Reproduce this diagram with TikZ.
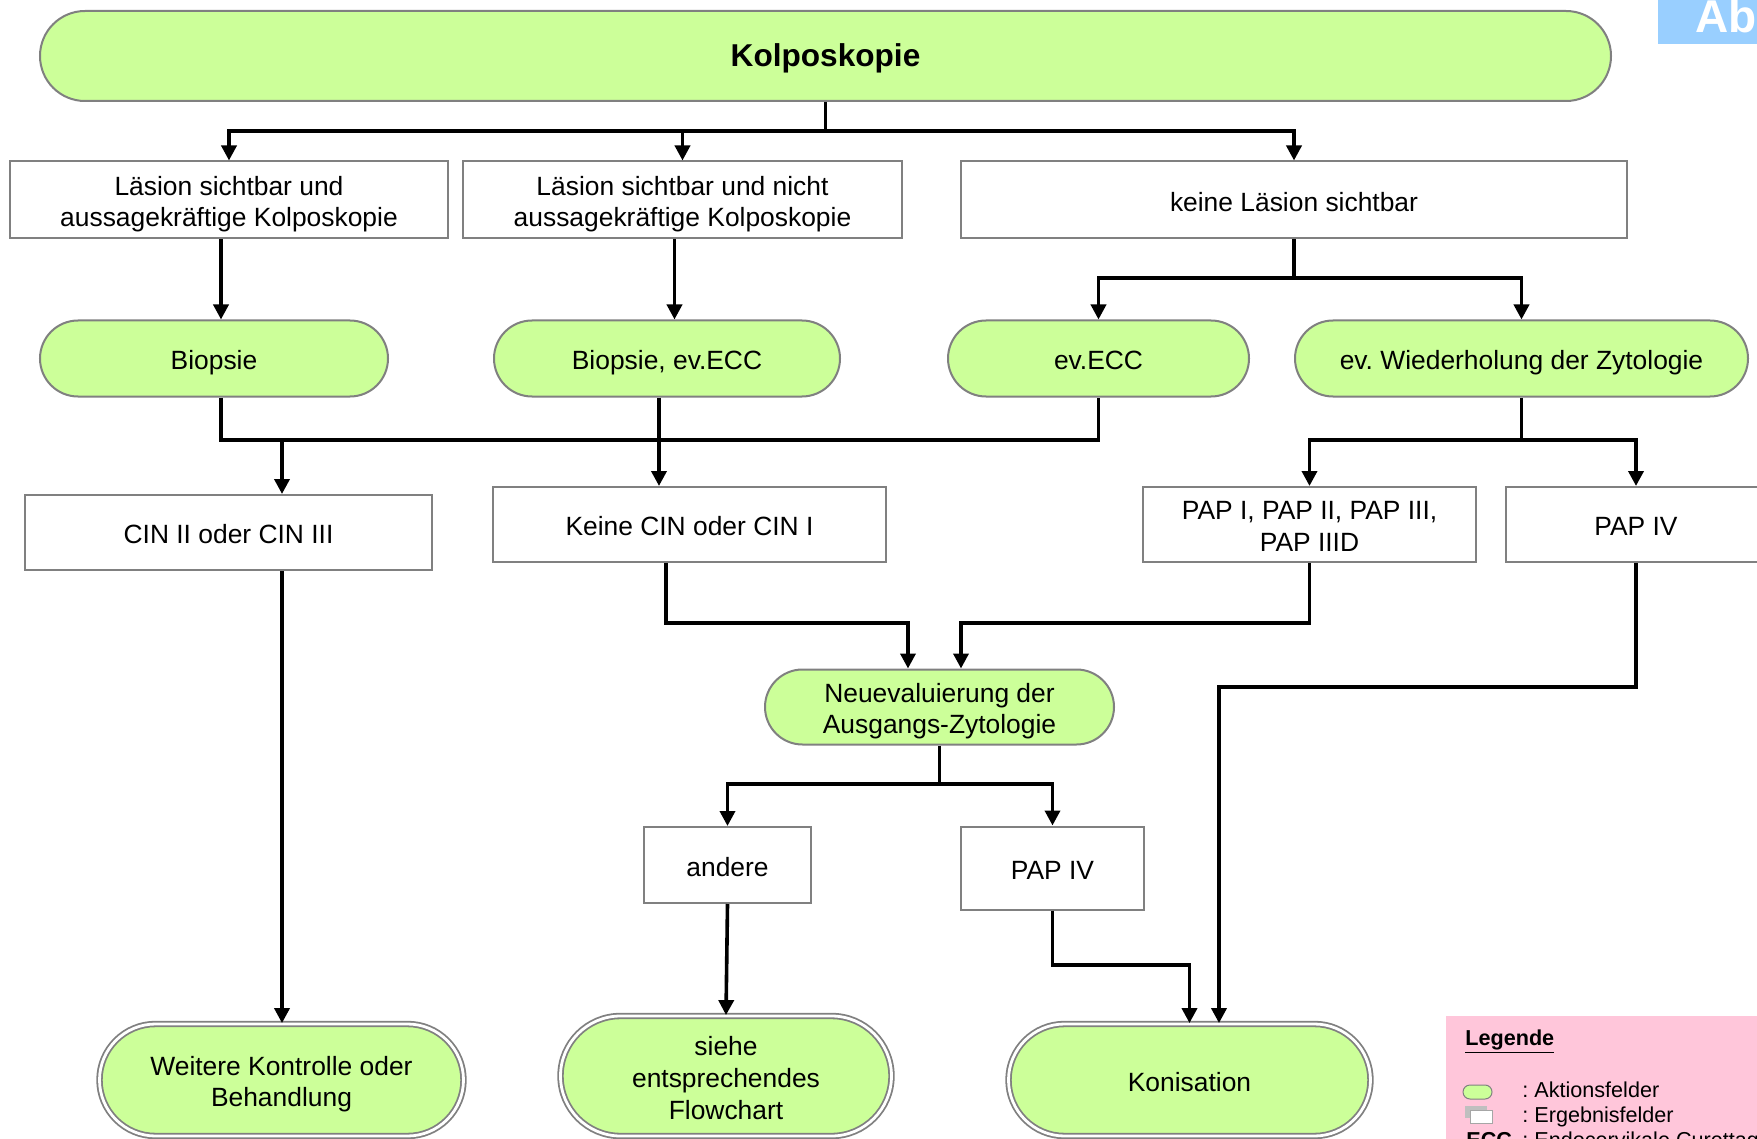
\documentclass[tikz,border=0pt]{standalone}
\usepackage{fontspec}
\setmainfont{Liberation Sans}
\usetikzlibrary{shapes.misc,arrows.meta,calc}
\definecolor{actgreen}{RGB}{204,255,153}
\definecolor{edgegray}{RGB}{128,128,128}
\definecolor{legpink}{RGB}{255,198,218}
\definecolor{tagblue}{RGB}{153,207,255}
% struts: \lt opens the first line of a box, \ls every further line
\newcommand\lt{\rule[-0.212em]{0pt}{1.26em}}
\newcommand\ls{\rule[-0.212em]{0pt}{1.117em}}

\begin{document}
\frenchspacing
\begin{tikzpicture}[x=0.5pt,y=-0.5pt,
  txt/.style={font=\fontsize{13.2}{15.7}\selectfont, align=center, text=black, inner sep=0pt},
  action/.style={txt, rounded rectangle, draw=edgegray, line width=1pt, fill=actgreen},
  result/.style={txt, rectangle, draw=edgegray, line width=1pt, fill=white},
  final/.style={action, double=white, double distance=1.4pt, line width=0.9pt},
  ln/.style={line width=1.8pt, draw=black},
  arr/.style={ln, -{Triangle[length=7.5pt,width=7.5pt]}},
  legtext/.style={font=\fontsize{10.8}{13}\selectfont, inner sep=0pt, anchor=base west},
]
\useasboundingbox (0,0) rectangle (1757,1139);
\clip (0,0) rectangle (1757,1139);
\fill[white] (0,0) rectangle (1757,1139);

% corner tag
\fill[tagblue] (1658,0) rectangle (1757,44);
\node[inner sep=0pt, anchor=base west, font=\fontsize{23}{23}\selectfont\bfseries, text=white] (tag) at (1695,33) {Ab};

% top action
\node[action, minimum width=785.5pt, minimum height=45pt,
      font=\fontsize{15.8}{18}\selectfont\bfseries] (kolpo) at (825.5,56) {\ls Kolposkopie};

% first results
\node[result, minimum width=219pt, minimum height=38.5pt] (l1) at (229,200) {\lt Läsion sichtbar und\\\ls aussagekräftige Kolposkopie};
\node[result, minimum width=219.5pt, minimum height=38.5pt] (l2) at (682.5,200) {\lt Läsion sichtbar und nicht\\\ls aussagekräftige Kolposkopie};
\node[result, minimum width=333pt, minimum height=38.5pt] (l3) at (1294,200) {\lt keine Läsion sichtbar};

% actions
\node[action, minimum width=174pt, minimum height=38pt] (biop) at (214,358.5) {\lt Biopsie};
\node[action, minimum width=173pt, minimum height=38pt] (biopecc) at (667,358.5) {\lt Biopsie, ev.ECC};
\node[action, minimum width=150.5pt, minimum height=38pt] (ecc) at (1098.5,358.5) {\lt ev.ECC};
\node[action, minimum width=226.5pt, minimum height=38pt] (wied) at (1521.5,358.5) {\lt ev. Wiederholung der Zytologie};

% second results
\node[result, minimum width=203.5pt, minimum height=37.5pt] (cin23) at (228.5,532.5) {\lt CIN II oder CIN III};
\node[result, minimum width=196.5pt, minimum height=37.5pt] (keine) at (689.5,524.5) {\lt Keine CIN oder CIN I};
\node[result, minimum width=166.5pt, minimum height=37.5pt] (pap13) at (1309.5,524.5) {\lt PAP I, PAP II, PAP III,\\\ls PAP IIID};
\node[result, minimum width=130pt, minimum height=37.5pt] (pap4a) at (1636,524.5) {\lt PAP IV};

% re-evaluation
\node[action, minimum width=174.5pt, minimum height=37.5pt] (neu) at (939.5,707) {\lt Neuevaluierung der\\\ls Ausgangs-Zytologie};
\node[result, minimum width=83.5pt, minimum height=38pt] (andere) at (727.5,865) {\lt andere};
\node[result, minimum width=91.5pt, minimum height=41.5pt] (pap4b) at (1052.5,868) {\lt PAP IV};

% end points
\node[final, minimum width=182pt, minimum height=56pt] (weitere) at (281.5,1080) {\lt Weitere Kontrolle oder\\\ls Behandlung};
\node[final, minimum width=165.5pt, minimum height=60pt, font=\fontsize{13.2}{16}\selectfont] (siehe) at (726,1076) {\lt siehe\\\ls entsprechendes\\\ls Flowchart};
\node[final, minimum width=181pt, minimum height=56pt] (koni) at (1189.5,1080) {\lt Konisation};

% connectors
\coordinate (h1) at (0,131);
\draw[arr] (kolpo.south) -- (kolpo.south |- h1) -| (l1.north);
\draw[arr] (kolpo.south |- h1) -| (l2.north);
\draw[arr] (kolpo.south |- h1) -| (l3.north);

\draw[arr] ([xshift=-4pt]l1.south) -- ([xshift=-4pt]l1.south |- biop.north);
\draw[arr] ([xshift=-4pt]l2.south) -- ([xshift=-4pt]l2.south |- biopecc.north);
\coordinate (h2) at (0,278);
\draw[arr] (l3.south) -- (l3.south |- h2) -| (ecc.north);
\draw[arr] (l3.south |- h2) -| (wied.north);

\coordinate (h3) at (0,440);
\draw[ln] ([xshift=3.5pt]biop.south) |- (ecc.south |- h3) -- (ecc.south);
\draw[arr] ([xshift=-4pt]biopecc.south) -- ([xshift=-4pt]biopecc.south |- keine.north);
\draw[arr] ([xshift=26.75pt]cin23.north |- h3) -- ([xshift=26.75pt]cin23.north);
\draw[arr] (wied.south) -- (wied.south |- h3) -| (pap13.north);
\draw[arr] (wied.south |- h3) -| (pap4a.north);

\coordinate (h4) at (0,623);
\draw[arr] ([xshift=-11.75pt]keine.south) |- ([xshift=-15.75pt]neu.north |- h4) -- ([xshift=-15.75pt]neu.north);
\draw[arr] (pap13.south) |- ([xshift=10.75pt]neu.north |- h4) -- ([xshift=10.75pt]neu.north);

\coordinate (h5) at (0,784);
\draw[arr] (neu.south) -- (neu.south |- h5) -| (andere.north);
\draw[arr] (neu.south |- h5) -| (pap4b.north);
\draw[arr] (andere.south) -- (siehe.north);

\coordinate (h6) at (0,965);
\draw[arr] (pap4b.south) |- (koni.north |- h6) -- (koni.north);
\coordinate (h7) at (0,687);
\draw[arr] (pap4a.south) |- ([xshift=14.75pt]koni.north |- h7) -- ([xshift=14.75pt]koni.north);
\draw[arr] ([xshift=26.75pt]cin23.south) -- ([xshift=26.75pt]cin23.south |- weitere.north);

% legend
\fill[legpink] (1446,1016) rectangle (1757,1139);
\node[legtext, font=\fontsize{10.8}{13}\selectfont\bfseries] (legtitle) at (1465,1045) {\underline{Legende}};
\node[rounded rectangle, draw=edgegray, fill=actgreen, line width=0.5pt, minimum width=14.5pt, minimum height=7pt, inner sep=0pt] (legact) at (1477.5,1092) {};
\node[legtext] (legacttxt) at (1522,1097) {: Aktionsfelder};
\fill[black!25] (1465,1106) rectangle (1487,1118);
\node[draw=edgegray!70, fill=white, minimum width=11pt, minimum height=6.5pt, inner sep=0pt, line width=0.5pt] (legres) at (1481,1116.5) {};
\node[legtext] (legrestxt) at (1522,1122) {: Ergebnisfelder};
\node[legtext, font=\fontsize{10.8}{13}\selectfont\bfseries] (legecc) at (1466,1147) {ECC};
\node[legtext] (legecctxt) at (1522,1147) {: Endocervikale Curettage};
\end{tikzpicture}
\end{document}
